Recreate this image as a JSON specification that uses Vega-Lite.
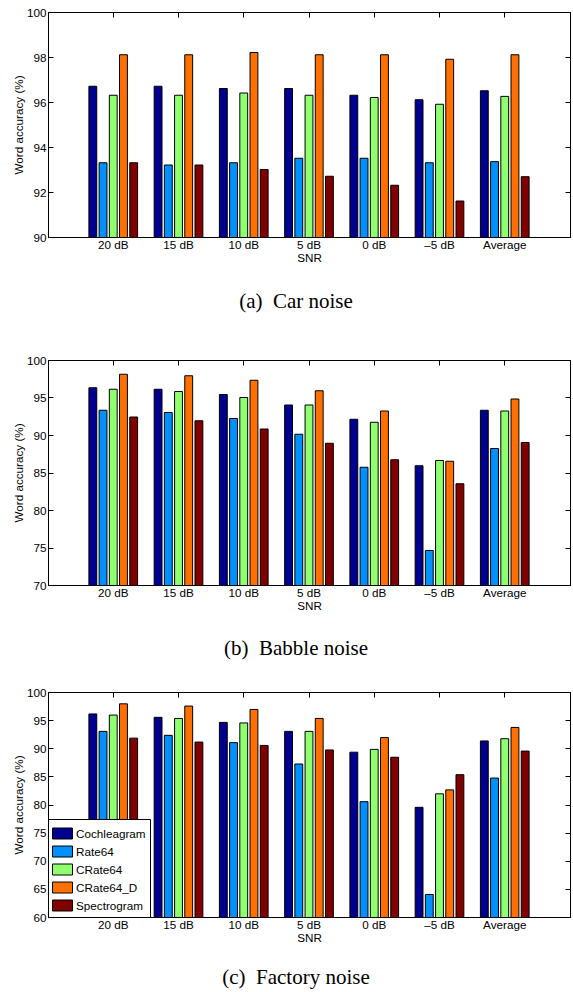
{
  "$schema": "https://vega.github.io/schema/vega-lite/v6.json",
  "padding": {"left": 12, "top": 6, "right": 0, "bottom": 0},
  "background": "white",
  "data": {"values": [
    {"panel":"a","snr":"20 dB","method":"Cochleagram","acc":96.7},
    {"panel":"a","snr":"20 dB","method":"Rate64","acc":93.3},
    {"panel":"a","snr":"20 dB","method":"CRate64","acc":96.3},
    {"panel":"a","snr":"20 dB","method":"CRate64_D","acc":98.1},
    {"panel":"a","snr":"20 dB","method":"Spectrogram","acc":93.3},
    {"panel":"a","snr":"15 dB","method":"Cochleagram","acc":96.7},
    {"panel":"a","snr":"15 dB","method":"Rate64","acc":93.2},
    {"panel":"a","snr":"15 dB","method":"CRate64","acc":96.3},
    {"panel":"a","snr":"15 dB","method":"CRate64_D","acc":98.1},
    {"panel":"a","snr":"15 dB","method":"Spectrogram","acc":93.2},
    {"panel":"a","snr":"10 dB","method":"Cochleagram","acc":96.6},
    {"panel":"a","snr":"10 dB","method":"Rate64","acc":93.3},
    {"panel":"a","snr":"10 dB","method":"CRate64","acc":96.4},
    {"panel":"a","snr":"10 dB","method":"CRate64_D","acc":98.2},
    {"panel":"a","snr":"10 dB","method":"Spectrogram","acc":93.0},
    {"panel":"a","snr":"5 dB","method":"Cochleagram","acc":96.6},
    {"panel":"a","snr":"5 dB","method":"Rate64","acc":93.5},
    {"panel":"a","snr":"5 dB","method":"CRate64","acc":96.3},
    {"panel":"a","snr":"5 dB","method":"CRate64_D","acc":98.1},
    {"panel":"a","snr":"5 dB","method":"Spectrogram","acc":92.7},
    {"panel":"a","snr":"0 dB","method":"Cochleagram","acc":96.3},
    {"panel":"a","snr":"0 dB","method":"Rate64","acc":93.5},
    {"panel":"a","snr":"0 dB","method":"CRate64","acc":96.2},
    {"panel":"a","snr":"0 dB","method":"CRate64_D","acc":98.1},
    {"panel":"a","snr":"0 dB","method":"Spectrogram","acc":92.3},
    {"panel":"a","snr":"–5 dB","method":"Cochleagram","acc":96.1},
    {"panel":"a","snr":"–5 dB","method":"Rate64","acc":93.3},
    {"panel":"a","snr":"–5 dB","method":"CRate64","acc":95.9},
    {"panel":"a","snr":"–5 dB","method":"CRate64_D","acc":97.9},
    {"panel":"a","snr":"–5 dB","method":"Spectrogram","acc":91.6},
    {"panel":"a","snr":"Average","method":"Cochleagram","acc":96.5},
    {"panel":"a","snr":"Average","method":"Rate64","acc":93.35},
    {"panel":"a","snr":"Average","method":"CRate64","acc":96.25},
    {"panel":"a","snr":"Average","method":"CRate64_D","acc":98.1},
    {"panel":"a","snr":"Average","method":"Spectrogram","acc":92.68},
    {"panel":"b","snr":"20 dB","method":"Cochleagram","acc":96.3},
    {"panel":"b","snr":"20 dB","method":"Rate64","acc":93.3},
    {"panel":"b","snr":"20 dB","method":"CRate64","acc":96.1},
    {"panel":"b","snr":"20 dB","method":"CRate64_D","acc":98.1},
    {"panel":"b","snr":"20 dB","method":"Spectrogram","acc":92.4},
    {"panel":"b","snr":"15 dB","method":"Cochleagram","acc":96.1},
    {"panel":"b","snr":"15 dB","method":"Rate64","acc":93.0},
    {"panel":"b","snr":"15 dB","method":"CRate64","acc":95.8},
    {"panel":"b","snr":"15 dB","method":"CRate64_D","acc":97.9},
    {"panel":"b","snr":"15 dB","method":"Spectrogram","acc":91.9},
    {"panel":"b","snr":"10 dB","method":"Cochleagram","acc":95.4},
    {"panel":"b","snr":"10 dB","method":"Rate64","acc":92.2},
    {"panel":"b","snr":"10 dB","method":"CRate64","acc":95.0},
    {"panel":"b","snr":"10 dB","method":"CRate64_D","acc":97.3},
    {"panel":"b","snr":"10 dB","method":"Spectrogram","acc":90.8},
    {"panel":"b","snr":"5 dB","method":"Cochleagram","acc":94.0},
    {"panel":"b","snr":"5 dB","method":"Rate64","acc":90.1},
    {"panel":"b","snr":"5 dB","method":"CRate64","acc":94.0},
    {"panel":"b","snr":"5 dB","method":"CRate64_D","acc":95.9},
    {"panel":"b","snr":"5 dB","method":"Spectrogram","acc":88.9},
    {"panel":"b","snr":"0 dB","method":"Cochleagram","acc":92.1},
    {"panel":"b","snr":"0 dB","method":"Rate64","acc":85.7},
    {"panel":"b","snr":"0 dB","method":"CRate64","acc":91.7},
    {"panel":"b","snr":"0 dB","method":"CRate64_D","acc":93.2},
    {"panel":"b","snr":"0 dB","method":"Spectrogram","acc":86.7},
    {"panel":"b","snr":"–5 dB","method":"Cochleagram","acc":85.9},
    {"panel":"b","snr":"–5 dB","method":"Rate64","acc":74.6},
    {"panel":"b","snr":"–5 dB","method":"CRate64","acc":86.6},
    {"panel":"b","snr":"–5 dB","method":"CRate64_D","acc":86.5},
    {"panel":"b","snr":"–5 dB","method":"Spectrogram","acc":83.5},
    {"panel":"b","snr":"Average","method":"Cochleagram","acc":93.3},
    {"panel":"b","snr":"Average","method":"Rate64","acc":88.2},
    {"panel":"b","snr":"Average","method":"CRate64","acc":93.2},
    {"panel":"b","snr":"Average","method":"CRate64_D","acc":94.8},
    {"panel":"b","snr":"Average","method":"Spectrogram","acc":89.0},
    {"panel":"c","snr":"20 dB","method":"Cochleagram","acc":96.1},
    {"panel":"c","snr":"20 dB","method":"Rate64","acc":93.0},
    {"panel":"c","snr":"20 dB","method":"CRate64","acc":95.9},
    {"panel":"c","snr":"20 dB","method":"CRate64_D","acc":97.9},
    {"panel":"c","snr":"20 dB","method":"Spectrogram","acc":91.8},
    {"panel":"c","snr":"15 dB","method":"Cochleagram","acc":95.5},
    {"panel":"c","snr":"15 dB","method":"Rate64","acc":92.3},
    {"panel":"c","snr":"15 dB","method":"CRate64","acc":95.3},
    {"panel":"c","snr":"15 dB","method":"CRate64_D","acc":97.5},
    {"panel":"c","snr":"15 dB","method":"Spectrogram","acc":91.1},
    {"panel":"c","snr":"10 dB","method":"Cochleagram","acc":94.6},
    {"panel":"c","snr":"10 dB","method":"Rate64","acc":91.0},
    {"panel":"c","snr":"10 dB","method":"CRate64","acc":94.5},
    {"panel":"c","snr":"10 dB","method":"CRate64_D","acc":96.9},
    {"panel":"c","snr":"10 dB","method":"Spectrogram","acc":90.5},
    {"panel":"c","snr":"5 dB","method":"Cochleagram","acc":93.0},
    {"panel":"c","snr":"5 dB","method":"Rate64","acc":87.2},
    {"panel":"c","snr":"5 dB","method":"CRate64","acc":93.0},
    {"panel":"c","snr":"5 dB","method":"CRate64_D","acc":95.3},
    {"panel":"c","snr":"5 dB","method":"Spectrogram","acc":89.7},
    {"panel":"c","snr":"0 dB","method":"Cochleagram","acc":89.3},
    {"panel":"c","snr":"0 dB","method":"Rate64","acc":80.5},
    {"panel":"c","snr":"0 dB","method":"CRate64","acc":89.8},
    {"panel":"c","snr":"0 dB","method":"CRate64_D","acc":91.9},
    {"panel":"c","snr":"0 dB","method":"Spectrogram","acc":88.4},
    {"panel":"c","snr":"–5 dB","method":"Cochleagram","acc":79.5},
    {"panel":"c","snr":"–5 dB","method":"Rate64","acc":64.0},
    {"panel":"c","snr":"–5 dB","method":"CRate64","acc":81.9},
    {"panel":"c","snr":"–5 dB","method":"CRate64_D","acc":82.6},
    {"panel":"c","snr":"–5 dB","method":"Spectrogram","acc":85.3},
    {"panel":"c","snr":"Average","method":"Cochleagram","acc":91.3},
    {"panel":"c","snr":"Average","method":"Rate64","acc":84.7},
    {"panel":"c","snr":"Average","method":"CRate64","acc":91.7},
    {"panel":"c","snr":"Average","method":"CRate64_D","acc":93.7},
    {"panel":"c","snr":"Average","method":"Spectrogram","acc":89.5}
  ]},
  "spacing": 41,
  "resolve": {"scale": {"color": "independent"}, "legend": {"color": "independent"}},
  "vconcat": [
    {
      "width": 522, "height": 225,
      "transform": [{"filter": "datum.panel == 'a'"}],
      "title": {"text": "(a)\u00a0 Car noise", "orient": "bottom", "offset": 27, "dx": -13},
      "layer": [
        {
          "mark": {"type": "bar", "clip": true, "stroke": "black", "strokeWidth": 1},
          "encoding": {
            "x": {"field": "snr", "type": "nominal", "sort": ["20 dB","15 dB","10 dB","5 dB","0 dB","–5 dB","Average"], "scale": {"paddingInner": 0, "paddingOuter": 0.5}, "axis": {"title": "SNR"}},
            "xOffset": {"field": "method", "type": "nominal", "sort": ["Cochleagram","Rate64","CRate64","CRate64_D","Spectrogram"], "scale": {"paddingInner": 0.23, "paddingOuter": 0.81}},
            "y": {"field": "acc", "type": "quantitative", "scale": {"domain": [90, 100], "nice": false, "zero": false}, "axis": {"title": "Word accuracy (%)", "values": [90,92,94,96,98,100]}},
            "color": {"field": "method", "type": "nominal", "scale": {"domain": ["Cochleagram","Rate64","CRate64","CRate64_D","Spectrogram"], "range": ["#00008F","#0090FF","#8FFF70","#FF7000","#800000"]}, "legend": null}
          }
        },
        {
          "mark": {"type": "bar", "clip": true, "opacity": 0},
          "encoding": {
            "x": {"field": "snr", "type": "nominal", "sort": ["20 dB","15 dB","10 dB","5 dB","0 dB","–5 dB","Average"], "axis": {"orient": "top", "labels": false, "title": null}},
            "y": {"field": "acc", "type": "quantitative", "axis": {"orient": "right", "labels": false, "title": null, "values": [90,92,94,96,98,100]}}
          }
        }
      ],
      "resolve": {"axis": {"x": "independent", "y": "independent"}}
    },
    {
      "spacing": 26,
      "resolve": {"scale": {"color": "independent"}, "legend": {"color": "independent"}},
      "vconcat": [
        {
          "width": 522, "height": 225,
          "transform": [{"filter": "datum.panel == 'b'"}],
          "title": {"text": "(b)\u00a0 Babble noise", "orient": "bottom", "offset": 26, "dx": -13},
          "layer": [
            {
              "mark": {"type": "bar", "clip": true, "stroke": "black", "strokeWidth": 1},
              "encoding": {
                "x": {"field": "snr", "type": "nominal", "sort": ["20 dB","15 dB","10 dB","5 dB","0 dB","–5 dB","Average"], "scale": {"paddingInner": 0, "paddingOuter": 0.5}, "axis": {"title": "SNR"}},
                "xOffset": {"field": "method", "type": "nominal", "sort": ["Cochleagram","Rate64","CRate64","CRate64_D","Spectrogram"], "scale": {"paddingInner": 0.23, "paddingOuter": 0.81}},
                "y": {"field": "acc", "type": "quantitative", "scale": {"domain": [70, 100], "nice": false, "zero": false}, "axis": {"title": "Word accuracy (%)", "values": [70,75,80,85,90,95,100]}},
                "color": {"field": "method", "type": "nominal", "scale": {"domain": ["Cochleagram","Rate64","CRate64","CRate64_D","Spectrogram"], "range": ["#00008F","#0090FF","#8FFF70","#FF7000","#800000"]}, "legend": null}
              }
            },
            {
              "mark": {"type": "bar", "clip": true, "opacity": 0},
              "encoding": {
                "x": {"field": "snr", "type": "nominal", "sort": ["20 dB","15 dB","10 dB","5 dB","0 dB","–5 dB","Average"], "axis": {"orient": "top", "labels": false, "title": null}},
                "y": {"field": "acc", "type": "quantitative", "axis": {"orient": "right", "labels": false, "title": null, "values": [70,75,80,85,90,95,100]}}
              }
            }
          ],
          "resolve": {"axis": {"x": "independent", "y": "independent"}}
        },
        {
          "width": 522, "height": 225,
          "transform": [{"filter": "datum.panel == 'c'"}],
          "title": {"text": "(c)\u00a0 Factory noise", "orient": "bottom", "offset": 23, "dx": -13},
          "layer": [
            {
              "mark": {"type": "bar", "clip": true, "stroke": "black", "strokeWidth": 1},
              "encoding": {
                "x": {"field": "snr", "type": "nominal", "sort": ["20 dB","15 dB","10 dB","5 dB","0 dB","–5 dB","Average"], "scale": {"paddingInner": 0, "paddingOuter": 0.5}, "axis": {"title": "SNR"}},
                "xOffset": {"field": "method", "type": "nominal", "sort": ["Cochleagram","Rate64","CRate64","CRate64_D","Spectrogram"], "scale": {"paddingInner": 0.23, "paddingOuter": 0.81}},
                "y": {"field": "acc", "type": "quantitative", "scale": {"domain": [60, 100], "nice": false, "zero": false}, "axis": {"title": "Word accuracy (%)", "values": [60,65,70,75,80,85,90,95,100]}},
                "color": {"field": "method", "type": "nominal", "scale": {"domain": ["Cochleagram","Rate64","CRate64","CRate64_D","Spectrogram"], "range": ["#00008F","#0090FF","#8FFF70","#FF7000","#800000"]},
                  "legend": {"orient": "bottom-left", "offset": 0, "title": null, "strokeColor": "black", "fillColor": "white", "padding": 4, "symbolType": "M-1,-0.55H1V0.55H-1Z", "symbolSize": 400, "symbolStrokeColor": "black", "symbolStrokeWidth": 1, "symbolOpacity": 1, "labelFont": "Liberation Sans", "labelFontSize": 11.7, "labelColor": "black", "labelOffset": 3, "rowPadding": -4.8, "cornerRadius": 0}}
              }
            },
            {
              "mark": {"type": "bar", "clip": true, "opacity": 0},
              "encoding": {
                "x": {"field": "snr", "type": "nominal", "sort": ["20 dB","15 dB","10 dB","5 dB","0 dB","–5 dB","Average"], "axis": {"orient": "top", "labels": false, "title": null}},
                "y": {"field": "acc", "type": "quantitative", "axis": {"orient": "right", "labels": false, "title": null, "values": [60,65,70,75,80,85,90,95,100]}}
              }
            }
          ],
          "resolve": {"axis": {"x": "independent", "y": "independent"}}
        }
      ]
    }
  ],
  "config": {
    "view": {"stroke": "black", "strokeWidth": 1},
    "axis": {"domainColor": "black", "domainWidth": 1, "tickColor": "black", "tickSize": -5, "tickWidth": 1, "grid": false, "labelFont": "Liberation Sans", "labelFontSize": 11.7, "labelColor": "black", "labelPadding": 7, "labelAngle": 0, "titleFont": "Liberation Sans", "titleFontSize": 11.7, "titleFontWeight": "normal", "titleColor": "black", "titlePadding": 2},
    "title": {"font": "Liberation Serif", "fontSize": 21, "fontWeight": "normal", "color": "black", "anchor": "middle", "frame": "group"}
  }
}
